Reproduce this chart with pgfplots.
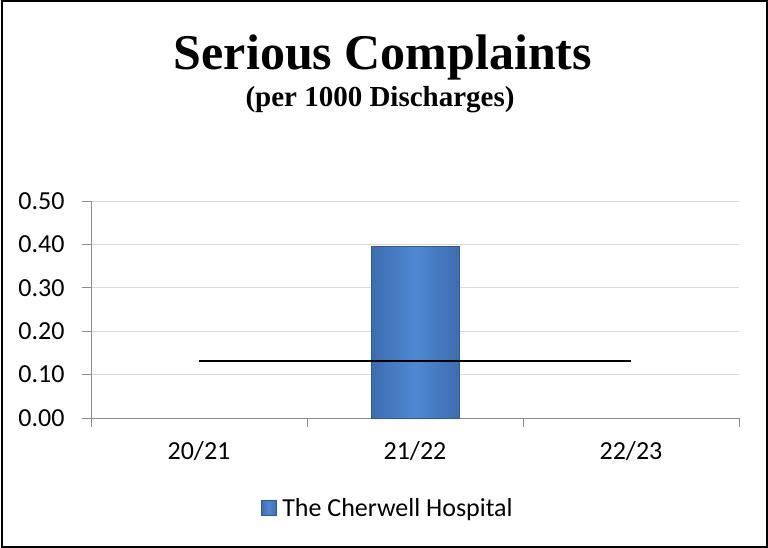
\documentclass[border=0pt]{standalone}
\usepackage{fontspec}
\setmainfont{Carlito}
\newfontfamily\titlefont{Liberation Serif}
\usepackage{pgfplots}
\pgfplotsset{compat=1.18}
\definecolor{barblue}{HTML}{4A80C8}
\definecolor{barlight}{HTML}{4F88D2}
\definecolor{bardark}{HTML}{3D6DB0}
\definecolor{baredge}{HTML}{2F5A94}
\definecolor{axisgray}{HTML}{8C8C8C}
\definecolor{gridgray}{HTML}{D9D9D9}
\begin{document}
\begin{tikzpicture}[x=1pt,y=1pt]
\path[use as bounding box] (0,0) rectangle (768,-548);
\draw[line width=2pt] (1.5,-1.5) rectangle (766.5,-546.5);
\node[anchor=base, font=\titlefont\bfseries\fontsize{50}{60}\selectfont] at (383,-70) {Serious Complaints};
\node[anchor=base, font=\titlefont\bfseries\fontsize{29}{34}\selectfont] at (380,-107) {(per 1000 Discharges)};
\begin{axis}[
  at={(91pt,-418pt)}, anchor=south west,
  scale only axis, width=648pt, height=217pt,
  xmin=-0.5, xmax=2.5, ymin=0, ymax=0.5,
  axis x line*=bottom, axis y line*=left,
  axis line style={draw=axisgray, line width=1pt},
  xtick={-0.5,0.5,1.5,2.5}, xticklabels={},
  extra x ticks={0,1,2}, extra x tick labels={20/21,21/22,22/23},
  extra x tick style={major tick length=0pt, grid=none,
    xticklabel style={yshift=-20pt}},
  ytick={0,0.1,0.2,0.3,0.4,0.5},
  ymajorgrids, grid style={draw=gridgray, line width=1pt},
  tick align=outside, major tick length=9pt,
  tick style={draw=axisgray, line width=1pt},
  every tick label/.append style={font=\fontsize{26}{31}\selectfont, text=black},
  /pgf/number format/assume math mode=true,
  yticklabel style={xshift=-14pt, /pgf/number format/.cd, fixed, fixed zerofill, precision=2},
  legend style={at={(0.458,-0.415)}, anchor=center, draw=none, fill=none,
    inner sep=0pt, font=\fontsize{26}{31}\selectfont},
]
\addplot[ybar, bar width=88pt, draw=baredge, line width=0.8pt,
  left color=bardark, right color=bardark, middle color=barlight,
  legend image code/.code={\path[draw=none, fill=none, shade=none] (0pt,0pt) rectangle (19pt,0.1pt);\fill[barblue, draw=baredge] (0pt,-7.5pt) rectangle (15pt,7.5pt);}]
  coordinates {(1,0.395)};
\addlegendentry{The Cherwell Hospital}
\addplot[black, line width=1.6pt, forget plot] coordinates {(0,0.132) (1,0.132) (2,0.132)};
\end{axis}
\end{tikzpicture}
\end{document}
